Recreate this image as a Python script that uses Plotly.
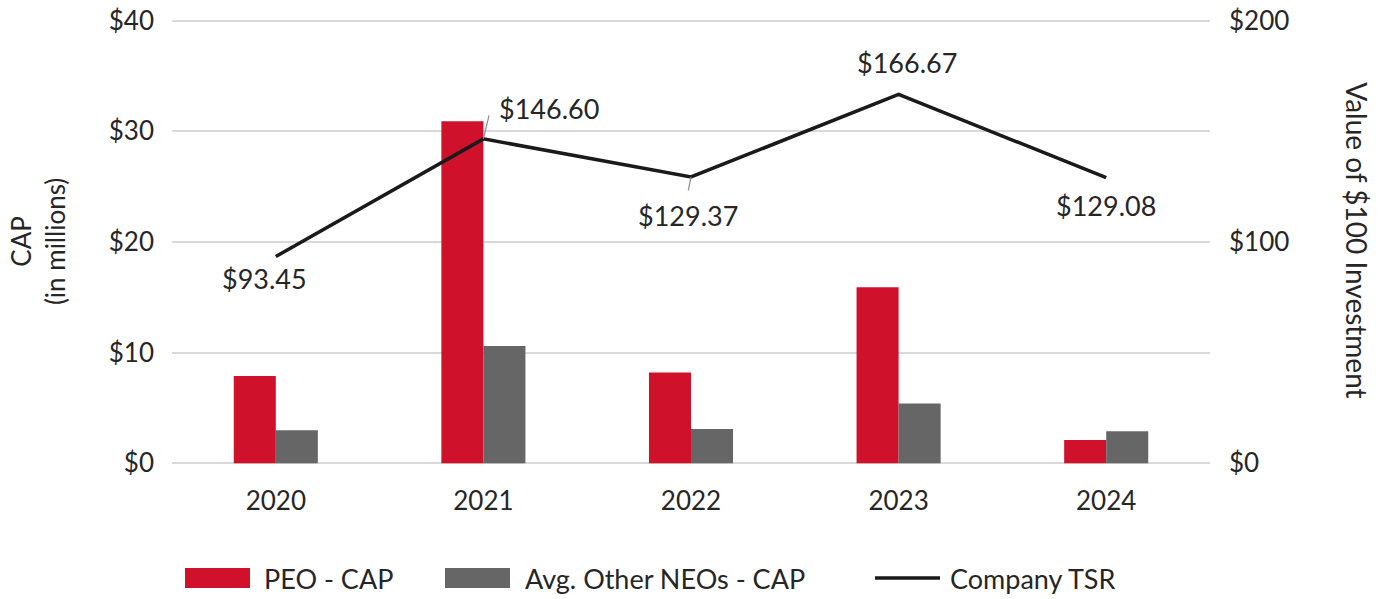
import plotly.graph_objects as go

years = ["2020", "2021", "2022", "2023", "2024"]
peo_cap = [7.9, 30.9, 8.2, 15.9, 2.1]
neo_cap = [3.0, 10.6, 3.1, 5.4, 2.9]
tsr = [93.45, 146.60, 129.37, 166.67, 129.08]
tsr_labels = ["$93.45", "$146.60", "$129.37", "$166.67", "$129.08"]
left_ticks = [0, 10, 20, 30, 40]
left_tick_text = ["$0", "$10", "$20", "$30", "$40"]
right_ticks = [0, 100, 200]
right_tick_text = ["$0", "$100", "$200"]
series_names = ["PEO - CAP", "Avg. Other NEOs - CAP", "Company TSR"]
RED, GRAY, BLACK = "#D0112B", "#666666", "#1a1a1a"

FONT = "Lato"
TXT = "#262626"

fig = go.Figure()
fig.add_trace(go.Bar(x=years, y=peo_cap, name=series_names[0], marker_color=RED,
                     marker_line_width=0, yaxis="y", showlegend=False))
fig.add_trace(go.Bar(x=years, y=neo_cap, name=series_names[1], marker_color=GRAY,
                     marker_line_width=0, yaxis="y", showlegend=False))
fig.add_trace(go.Scatter(x=years, y=tsr, name=series_names[2], mode="lines",
                         line=dict(color=BLACK, width=3.5), yaxis="y2", showlegend=False))

# TSR data labels: (x shift, y shift downward) in pixels
offsets = [(-11, 22), (66, -30), (-3, 39), (8, -32), (0, 28)]
leaders = [None, (6, -25), (-3, 15), None, None]
for i, (v, lab) in enumerate(zip(tsr, tsr_labels)):
    ax, ay = offsets[i]
    if leaders[i] is not None:
        lx, ly = leaders[i]
        fig.add_annotation(x=i, y=v, xref="x", yref="y2", text="", showarrow=True,
                           arrowhead=0, arrowwidth=1.2, arrowcolor="#8c8c8c",
                           ax=lx, ay=ly, axref="pixel", ayref="pixel", standoff=0)
    fig.add_annotation(x=i, y=v, xref="x", yref="y2", text=lab, showarrow=False,
                       xshift=ax, yshift=-ay, font=dict(family=FONT, size=27, color=TXT))

# axis titles
fig.add_annotation(x=-0.129, y=0.5, xref="paper", yref="paper", text="CAP<br>(in millions)",
                   textangle=-90, showarrow=False, xanchor="center", yanchor="middle",
                   font=dict(family=FONT, size=26, color=TXT))
fig.add_annotation(x=1.1416, y=0.504, xref="paper", yref="paper", text="Value of $100 Investment",
                   textangle=90, showarrow=False, xanchor="center", yanchor="middle",
                   font=dict(family=FONT, size=28, color=TXT))

# custom legend (paper coordinates, computed from screen pixel positions)
W = 1038.0
H = 446.0
def px(xp):
    return (xp - 172) / W
def py(yp):
    return (465 - yp) / H
fig.add_shape(type="rect", xref="paper", yref="paper", x0=px(185), x1=px(250), y0=py(588), y1=py(568),
              fillcolor=RED, line_width=0)
fig.add_shape(type="rect", xref="paper", yref="paper", x0=px(445), x1=px(510), y0=py(588), y1=py(568),
              fillcolor=GRAY, line_width=0)
fig.add_shape(type="line", xref="paper", yref="paper", x0=px(875), x1=px(940), y0=py(578), y1=py(578),
              line=dict(color=BLACK, width=3.5))
for name, xs in zip(series_names, [262, 523, 948]):
    fig.add_annotation(x=px(xs), y=py(578), xref="paper", yref="paper", text=name,
                       xanchor="left", yanchor="middle", showarrow=False,
                       font=dict(family=FONT, size=27, color=TXT))

fig.update_layout(
    width=1383, height=599,
    margin=dict(l=172, r=173, t=19, b=134, autoexpand=False),
    paper_bgcolor="white", plot_bgcolor="white",
    barmode="group", bargap=0.595, bargroupgap=0,
    font=dict(family=FONT, size=26, color=TXT),
    showlegend=False,
    xaxis=dict(type="category", range=[-0.5, 4.5], showgrid=False, showline=False, ticks="",
               tickfont=dict(size=26, color=TXT), ticklabelstandoff=18),
    yaxis=dict(range=[-0.15, 40.15], tickvals=left_ticks, ticktext=left_tick_text,
               showgrid=True, gridcolor="#d9d9d9", gridwidth=2, zeroline=False,
               showline=False, ticks="", ticklabelstandoff=17, ticklabeloverflow="allow",
               tickfont=dict(size=26, color=TXT)),
    yaxis2=dict(range=[-0.75, 200.75], tickvals=right_ticks, ticktext=right_tick_text,
                overlaying="y", side="right", showgrid=False, zeroline=False,
                showline=False, ticks="", ticklabelstandoff=18, ticklabeloverflow="allow",
                tickfont=dict(size=26, color=TXT)),
)

fig.write_html("out.html",
               config={"displayModeBar": False},
               post_script="document.body.style.margin='0';document.body.style.overflow='hidden';")
